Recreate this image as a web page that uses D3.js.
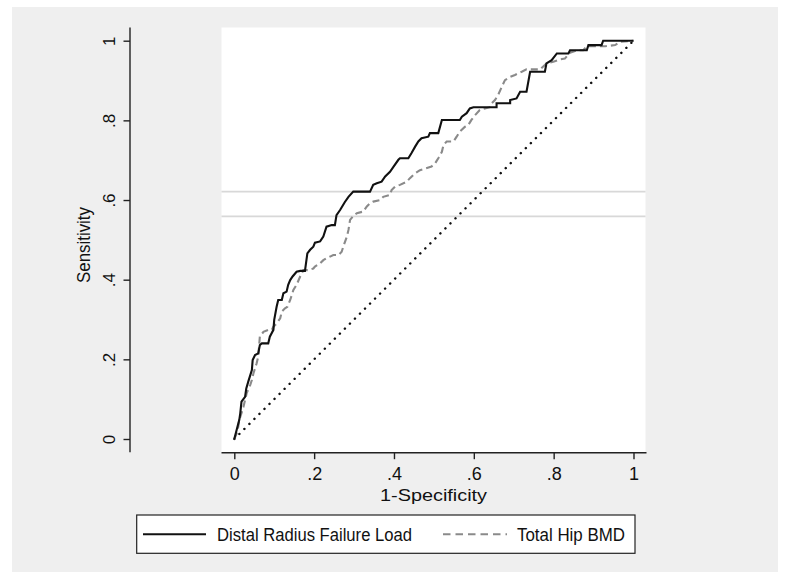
<!DOCTYPE html>
<html>
<head>
<meta charset="utf-8">
<script src="https://cdn.jsdelivr.net/npm/d3@7"></script>
<style>
  html, body { margin: 0; padding: 0; background: #fff; }
  text { font-family: "Liberation Sans", Arial, sans-serif; fill: #111; }
</style>
</head>
<body>
<div id="chart"></div>
<script>
// ROC points: [1-specificity, sensitivity]
const radiusRoc = [
  [0,0],[0.006,0.023],[0.0125,0.048],[0.015,0.065],[0.018,0.094],[0.027,0.106],[0.03,0.127],
  [0.035,0.144],[0.044,0.173],[0.046,0.198],[0.052,0.211],[0.06,0.215],[0.064,0.236],[0.069,0.24],
  [0.085,0.24],[0.089,0.257],[0.098,0.274],[0.1,0.299],[0.106,0.332],[0.11,0.349],[0.119,0.349],
  [0.123,0.366],[0.131,0.37],[0.135,0.387],[0.14,0.399],[0.146,0.408],[0.156,0.42],[0.165,0.422],
  [0.177,0.422],[0.183,0.466],[0.19,0.475],[0.198,0.483],[0.202,0.493],[0.215,0.496],[0.223,0.508],
  [0.231,0.533],[0.244,0.537],[0.252,0.537],[0.256,0.562],[0.265,0.575],[0.277,0.595],[0.286,0.608],
  [0.298,0.621],[0.34,0.621],[0.348,0.638],[0.357,0.642],[0.369,0.646],[0.378,0.659],[0.39,0.671],
  [0.399,0.684],[0.411,0.701],[0.415,0.705],[0.436,0.705],[0.444,0.718],[0.453,0.734],[0.461,0.747],
  [0.469,0.755],[0.486,0.759],[0.49,0.768],[0.511,0.768],[0.52,0.801],[0.565,0.801],[0.57,0.809],
  [0.582,0.818],[0.59,0.830],[0.599,0.833],[0.657,0.833],[0.657,0.843],[0.691,0.843],[0.691,0.851],
  [0.707,0.855],[0.716,0.872],[0.732,0.872],[0.741,0.922],[0.778,0.922],[0.782,0.943],[0.795,0.951],
  [0.808,0.968],[0.837,0.968],[0.841,0.976],[0.883,0.976],[0.887,0.989],[0.92,0.989],[0.924,1.0],[1,1]
];

const hipRoc = [
  [0,0],[0.006,0.014],[0.010,0.031],[0.0125,0.048],[0.018,0.065],[0.023,0.081],[0.027,0.098],
  [0.031,0.115],[0.04,0.136],[0.044,0.148],[0.048,0.165],[0.056,0.19],[0.06,0.207],[0.064,0.257],
  [0.073,0.269],[0.085,0.274],[0.094,0.274],[0.098,0.282],[0.106,0.29],[0.115,0.303],[0.119,0.32],
  [0.127,0.328],[0.133,0.332],[0.14,0.349],[0.148,0.374],[0.156,0.387],[0.165,0.408],[0.173,0.424],
  [0.186,0.424],[0.198,0.428],[0.202,0.433],[0.215,0.441],[0.223,0.449],[0.231,0.454],[0.24,0.458],
  [0.248,0.462],[0.261,0.462],[0.269,0.47],[0.273,0.483],[0.282,0.508],[0.286,0.525],[0.29,0.55],
  [0.298,0.56],[0.307,0.567],[0.323,0.571],[0.332,0.584],[0.34,0.592],[0.348,0.596],[0.365,0.6],
  [0.373,0.608],[0.39,0.613],[0.394,0.625],[0.403,0.634],[0.415,0.638],[0.432,0.646],[0.44,0.655],
  [0.453,0.667],[0.465,0.675],[0.478,0.679],[0.494,0.684],[0.503,0.692],[0.511,0.705],[0.52,0.721],
  [0.524,0.738],[0.532,0.747],[0.549,0.747],[0.557,0.759],[0.565,0.772],[0.578,0.784],[0.586,0.788],
  [0.594,0.801],[0.603,0.813],[0.615,0.826],[0.628,0.830],[0.64,0.833],[0.645,0.843],[0.653,0.851],
  [0.661,0.864],[0.67,0.884],[0.678,0.901],[0.691,0.909],[0.703,0.914],[0.711,0.918],[0.72,0.922],
  [0.732,0.928],[0.766,0.928],[0.782,0.943],[0.799,0.947],[0.816,0.953],[0.828,0.955],[0.841,0.970],
  [0.858,0.976],[0.874,0.976],[0.883,0.986],[0.929,0.986],[0.954,0.989],[0.966,0.997],[1,1]
];

const referenceDiagonal = [[0,0],[1,1]];
const cutoffLines = [0.621, 0.559];
const tickValues = [0, 0.2, 0.4, 0.6, 0.8, 1];
const tickLabels = ['0', '.2', '.4', '.6', '.8', '1'];
const legendLabels = ['Distal Radius Failure Load', 'Total Hip BMD'];

const width = 790, height = 579;

// plot region (white box) in px
const plot = { left: 221.5, top: 27.5, right: 645.5, bottom: 452.7 };

const x = d3.scaleLinear().domain([0, 1]).range([234.3, 633.5]);
const y = d3.scaleLinear().domain([0, 1]).range([439, 40.7]);

const svg = d3.select('#chart').append('svg')
  .attr('width', width)
  .attr('height', height);

// outer gray graph region
svg.append('rect')
  .attr('x', 12).attr('y', 7)
  .attr('width', width - 24).attr('height', height - 14)
  .attr('fill', '#efefef');

svg.append('rect')
  .attr('x', plot.left).attr('y', plot.top)
  .attr('width', plot.right - plot.left).attr('height', plot.bottom - plot.top)
  .attr('fill', '#fff');

// horizontal reference lines
svg.selectAll('line.cutoff')
  .data(cutoffLines)
  .join('line')
  .attr('class', 'cutoff')
  .attr('x1', plot.left).attr('x2', plot.right)
  .attr('y1', d => y(d)).attr('y2', d => y(d))
  .attr('stroke', '#d8d8d8')
  .attr('stroke-width', 1.6);

const line = d3.line().x(d => x(d[0])).y(d => y(d[1]));

// chance diagonal
svg.append('path')
  .attr('d', line(referenceDiagonal))
  .attr('fill', 'none')
  .attr('stroke', '#111')
  .attr('stroke-width', 2.4)
  .attr('stroke-linecap', 'round')
  .attr('stroke-dasharray', '0.1,7');

svg.append('path')
  .attr('d', line(hipRoc))
  .attr('fill', 'none')
  .attr('stroke', '#8a8a8a')
  .attr('stroke-width', 2.1)
  .attr('stroke-dasharray', '7,4');

svg.append('path')
  .attr('d', line(radiusRoc))
  .attr('fill', 'none')
  .attr('stroke', '#111')
  .attr('stroke-width', 2.1);

// y axis
const yAxisX = 130;
const yAxis = svg.append('g')
  .attr('transform', `translate(${yAxisX},0)`)
  .call(d3.axisLeft(y).tickValues(tickValues).tickSize(6.5)
    .tickFormat((d, i) => tickLabels[i]));
yAxis.select('.domain').remove();
yAxis.selectAll('.tick line').attr('stroke', '#222').attr('stroke-width', 1.4);
yAxis.selectAll('.tick text')
  .attr('x', null).attr('dy', null)
  .attr('transform', 'translate(-15,0) rotate(-90)')
  .attr('text-anchor', 'middle')
  .attr('font-size', '17px')
  .attr('fill', '#111');
svg.append('line')
  .attr('x1', yAxisX).attr('x2', yAxisX)
  .attr('y1', plot.top).attr('y2', plot.bottom - 0.5)
  .attr('stroke', '#222').attr('stroke-width', 1.4);

// x axis
const xAxis = svg.append('g')
  .attr('transform', `translate(0,${plot.bottom})`)
  .call(d3.axisBottom(x).tickValues(tickValues).tickSize(6.5)
    .tickFormat((d, i) => tickLabels[i]));
xAxis.select('.domain').remove();
xAxis.selectAll('.tick line').attr('stroke', '#222').attr('stroke-width', 1.4);
xAxis.selectAll('.tick text')
  .attr('y', 27.5).attr('dy', null)
  .attr('font-size', '18px')
  .attr('fill', '#111');
svg.append('line')
  .attr('x1', plot.left).attr('x2', plot.right + 1)
  .attr('y1', plot.bottom).attr('y2', plot.bottom)
  .attr('stroke', '#222').attr('stroke-width', 1.4);

// axis titles
svg.append('text')
  .attr('x', (plot.left + plot.right) / 2)
  .attr('y', 500.5)
  .attr('text-anchor', 'middle')
  .attr('font-size', '17px')
  .attr('textLength', 107)
  .attr('lengthAdjust', 'spacingAndGlyphs')
  .text('1-Specificity');

svg.append('text')
  .attr('transform', 'translate(90,245) rotate(-90)')
  .attr('text-anchor', 'middle')
  .attr('font-size', '18px')
  .attr('textLength', 76)
  .attr('lengthAdjust', 'spacingAndGlyphs')
  .text('Sensitivity');

// legend
const legend = svg.append('g');
legend.append('rect')
  .attr('x', 136.7).attr('y', 515)
  .attr('width', 498.3).attr('height', 38.3)
  .attr('fill', '#fff')
  .attr('stroke', '#222')
  .attr('stroke-width', 1.2);

const legendItems = [
  { x0: 143, x1: 206, tx: 217, tw: 195, color: '#111', dash: null },
  { x0: 443, x1: 507, tx: 517, tw: 108, color: '#8a8a8a', dash: '7.5,5' }
];
legendItems.forEach((it, i) => {
  legend.append('line')
    .attr('x1', it.x0).attr('x2', it.x1)
    .attr('y1', 534.3).attr('y2', 534.3)
    .attr('stroke', it.color)
    .attr('stroke-width', 2)
    .attr('stroke-dasharray', it.dash);
  legend.append('text')
    .attr('x', it.tx).attr('y', 541)
    .attr('font-size', '17.5px')
    .attr('textLength', it.tw)
    .attr('lengthAdjust', 'spacingAndGlyphs')
    .text(legendLabels[i]);
});
</script>
</body>
</html>
